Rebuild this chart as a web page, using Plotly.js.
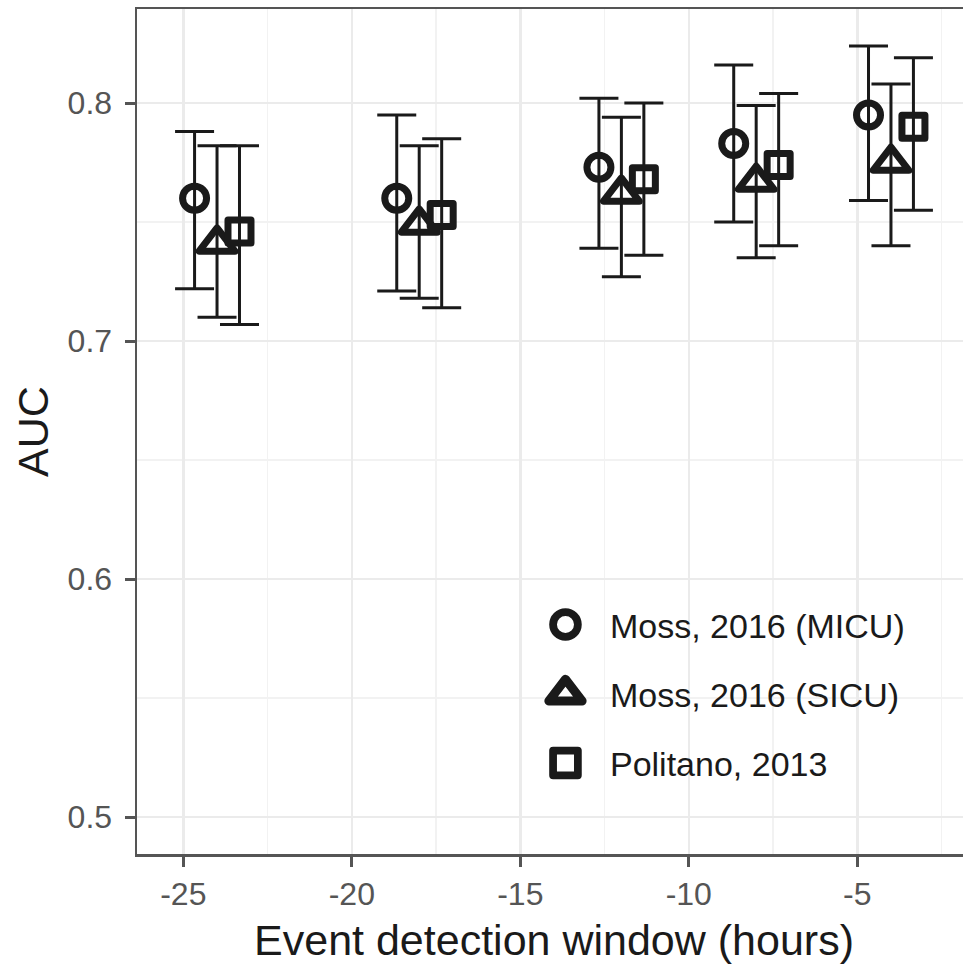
<!DOCTYPE html>
<html><head><meta charset="utf-8">
<script src="https://cdn.plot.ly/plotly-3.0.1.min.js"></script>
<style>
html,body{margin:0;padding:0;overflow:hidden;background:#fff;}
#chart{width:972px;height:965px;}
.scatterlayer path.point, .legendpoints path.scatterpts {stroke-linejoin: round;}
</style></head><body><div id="chart"></div>
<script>
// Event detection window (hours)
const windowHours = [-24, -18, -12, -8, -4];
const seriesNames = ['Moss, 2016 (MICU)', 'Moss, 2016 (SICU)', 'Politano, 2013'];
// Moss, 2016 (MICU)
const micuAUC   = [0.760, 0.760, 0.773, 0.783, 0.795];
const micuLower = [0.722, 0.721, 0.739, 0.750, 0.759];
const micuUpper = [0.788, 0.795, 0.802, 0.816, 0.824];
// Moss, 2016 (SICU)
const sicuAUC   = [0.741, 0.749, 0.762, 0.767, 0.775];
const sicuLower = [0.710, 0.718, 0.727, 0.735, 0.740];
const sicuUpper = [0.782, 0.782, 0.794, 0.799, 0.808];
// Politano, 2013
const politanoAUC   = [0.746, 0.753, 0.768, 0.774, 0.790];
const politanoLower = [0.707, 0.714, 0.736, 0.740, 0.755];
const politanoUpper = [0.782, 0.785, 0.800, 0.804, 0.819];
const yTicks = [0.5, 0.6, 0.7, 0.8];
const xTicks = [-25, -20, -15, -10, -5];

const ink = '#1a1a1a';
const dodge = [-2/3, 0, 2/3];
const symbols = ['circle-open', 'triangle-up-open', 'square-open'];
const sizes = [24, 31, 23];
const legendScale = [1.55, 1.8, 1.55];
const allY = [micuAUC, sicuAUC, politanoAUC];
const allLo = [micuLower, sicuLower, politanoLower];
const allHi = [micuUpper, sicuUpper, politanoUpper];

const traces = seriesNames.map((name, k) => ({
  type: 'scatter', mode: 'markers', name: name, legendgroup: 'g' + k,
  x: windowHours.map(h => h + dodge[k]),
  y: allY[k],
  error_y: {
    type: 'data', symmetric: false,
    array: allHi[k].map((v, i) => v - allY[k][i]),
    arrayminus: allY[k].map((v, i) => v - allLo[k][i]),
    color: ink, thickness: 3, width: 19.5
  },
  marker: {symbol: symbols[k], size: sizes[k], color: ink, line: {color: ink, width: 7}},
  cliponaxis: false
}));

const layout = {
  width: 972, height: 965,
  margin: {l: 137, r: 1, t: 9, b: 111},
  paper_bgcolor: '#fff', plot_bgcolor: '#fff',
  font: {family: 'Liberation Sans, Arial, sans-serif', color: ink},
  showlegend: true,
  legend: {
    x: 0.4604, xanchor: 'left', y: 0.1894, yanchor: 'middle',
    bgcolor: 'rgba(0,0,0,0)', borderwidth: 0,
    font: {size: 34, color: ink}, itemwidth: 79, tracegroupgap: 22
  },
  xaxis: {
    range: [-26.375, -1.625], tickvals: xTicks, ticktext: xTicks.map(String),
    ticks: 'outside', ticklen: 10, tickwidth: 3, tickcolor: '#555',
    tickfont: {size: 32, color: '#555'},
    showgrid: true, gridcolor: '#ebebeb', gridwidth: 2.5,
    minor: {dtick: 2.5, tick0: -25, showgrid: true, gridcolor: '#f2f2f2', gridwidth: 1.5, ticks: ''},
    showline: true, mirror: true, linecolor: '#555', linewidth: 2.5,
    zeroline: false,
    title: {text: 'Event detection window (hours)', font: {size: 43, color: ink}, standoff: 14}
  },
  yaxis: {
    range: [0.4845, 0.8395], tickvals: yTicks, ticktext: yTicks.map(v => v.toFixed(1)),
    ticks: 'outside', ticklen: 10, tickwidth: 3, tickcolor: '#555',
    tickfont: {size: 32, color: '#555'}, ticklabelstandoff: 6,
    showgrid: true, gridcolor: '#ebebeb', gridwidth: 2.5,
    minor: {dtick: 0.05, tick0: 0.5, showgrid: true, gridcolor: '#f2f2f2', gridwidth: 1.5, ticks: ''},
    showline: true, mirror: true, linecolor: '#555', linewidth: 2.5,
    zeroline: false,
    title: {text: 'AUC', font: {size: 43, color: ink}, standoff: 6}
  },
  shapes: [{
    type: 'rect', xref: 'paper', yref: 'paper', layer: 'between',
    x0: 0.4448, x1: 0.9544, y0: 0.040, y1: 0.3598,
    fillcolor: '#fff', line: {width: 0}
  }]
};

Plotly.newPlot('chart', traces, layout, {displayModeBar: false, staticPlot: true}).then(gd => {
  gd.querySelectorAll('.legend .traces').forEach((g, k) => {
    g.querySelectorAll('.legendpoints path.scatterpts').forEach(p => {
      const t = p.getAttribute('transform') || '';
      p.setAttribute('transform', t + ' scale(' + legendScale[k] + ')');
    });
  });
});
</script></body></html>
